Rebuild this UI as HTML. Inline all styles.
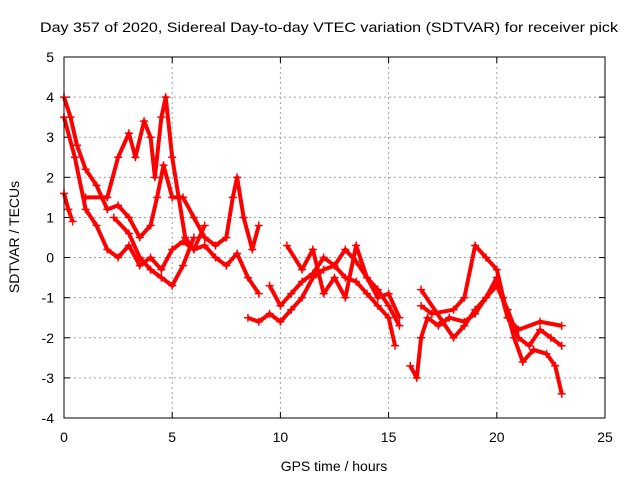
<!DOCTYPE html>
<html><head><meta charset="utf-8"><style>
body{margin:0;background:#fff}
svg{display:block;font-family:"Liberation Sans",sans-serif}
</style></head><body>
<svg id="c" width="640" height="480">
<text x="40" y="32" font-size="14" textLength="578" lengthAdjust="spacingAndGlyphs">Day 357 of 2020, Sidereal Day-to-day VTEC variation (SDTVAR) for receiver pick</text>
<text x="334" y="471" font-size="14" text-anchor="middle">GPS time / hours</text>
<text transform="translate(19,237) rotate(-90)" font-size="14" text-anchor="middle">SDTVAR / TECUs</text>
<g id="grid"></g><g id="marks"></g>
<rect x="64" y="57" width="541" height="361" fill="none" stroke="#000"/>
</svg>
<script>
const xTicks=[0,5,10,15,20,25];
const yTicks=[-4,-3,-2,-1,0,1,2,3,4,5];
const t1=[[0,4.0],[0.3,3.5],[0.6,2.8],[1,2.2],[1.5,1.8],[2,1.2],[2.5,1.3],[3,1.0],[3.5,0.5],[4,0.8],[4.3,1.5],[4.6,2.3],[5,1.5],[5.5,1.5],[6,1.0],[6.5,0.5],[7,0.3],[7.5,0.5],[7.8,1.5],[8,2.0],[8.3,1.0],[8.7,0.2],[9,0.8]];
const t2=[[0,3.5],[0.5,2.5],[1,1.2],[1.5,0.8],[2,0.2],[2.5,0.0],[3,0.3],[3.5,-0.2],[4,0.0],[4.5,-0.3],[5,0.2],[5.5,0.4],[6,0.2],[6.5,0.3],[7,0.0],[7.5,-0.2],[8,0.1],[8.5,-0.5],[9,-0.9]];
const t3=[[0,1.6],[0.2,1.2],[0.4,0.9]];
const t4=[[1,1.5],[2,1.5],[2.5,2.5],[3,3.1],[3.3,2.5],[3.7,3.4],[4,3.0],[4.2,2.0],[4.5,3.5],[4.7,4.0],[5,2.5],[5.3,1.5],[5.6,0.5],[6,0.2],[6.5,0.8]];
const t5=[[2.3,1.0],[3,0.6],[3.5,0.0],[4,-0.3],[4.5,-0.5],[5,-0.7],[5.5,-0.2],[6,0.5]];
const t6=[[8.5,-1.5],[9,-1.6],[9.5,-1.4],[10,-1.6],[10.5,-1.3],[11,-1.0],[11.5,-0.5],[12,-0.3],[12.5,-0.2],[13,-0.5],[13.5,-0.6],[14,-0.9],[14.5,-1.2],[15,-1.5],[15.3,-2.2]];
const t7=[[9.5,-0.7],[10,-1.2],[10.5,-0.9],[11,-0.6],[11.5,-0.4],[12,0.0],[12.5,-0.2],[13,0.2],[13.5,-0.1],[14,-0.5],[14.5,-0.8],[15,-1.2],[15.5,-1.7]];
const t8=[[10.3,0.3],[11,-0.3],[11.5,0.2],[12,-0.9],[12.5,-0.5],[13,-1.0],[13.5,0.3],[14,-0.5],[14.5,-1.0],[15,-0.9],[15.5,-1.5]];
const t9=[[16,-2.7],[16.3,-3.0],[16.5,-2.0],[16.8,-1.5],[17.3,-1.7],[17.8,-1.5],[18.5,-1.6],[19,-1.4],[19.5,-1.0],[20,-0.7],[20.5,-1.3],[21,-2.0],[21.5,-2.2],[22,-1.8],[22.5,-2.0],[23,-2.2]];
const t10=[[16.5,-1.2],[17,-1.4],[18,-1.3],[18.5,-1.0],[19,0.3],[19.5,0.0],[20,-0.3],[20.3,-1.0],[20.8,-2.0],[21.2,-2.6],[21.7,-2.3],[22.3,-2.4],[22.7,-2.7],[23,-3.4]];
const t11=[[16.5,-0.8],[17.5,-1.6],[18,-2.0],[18.5,-1.7],[19,-1.3],[19.5,-1.0],[20,-0.5],[20.5,-1.5],[21,-1.8],[22,-1.6],[23,-1.7]];
const series=[t1,t2,t3,t4,t5,t6,t7,t8,t9,t10,t11];
const NS="http://www.w3.org/2000/svg";
const X=v=>64+v*541/25, Y=v=>418-(v+4)*361/9;
const grid=document.getElementById('grid'), marks=document.getElementById('marks');
function mk(tag,a,p){const e=document.createElementNS(NS,tag);for(const k in a)e.setAttribute(k,a[k]);p.appendChild(e);return e;}
xTicks.forEach(v=>{
 if(v>0&&v<25){const l=mk('line',{x1:X(v),x2:X(v),y1:57,y2:418,stroke:'#a0a0a0','stroke-dasharray':'2,3'},grid);
 
 }
 mk('line',{x1:X(v),x2:X(v),y1:418,y2:412,stroke:'#000'},grid);
 mk('line',{x1:X(v),x2:X(v),y1:57,y2:63,stroke:'#000'},grid);
 const t=mk('text',{x:X(v),y:442,'font-size':14,'text-anchor':'middle'},grid);t.textContent=v;
 
 
});
yTicks.forEach(v=>{
 if(v>-4&&v<5){const l=mk('line',{x1:64,x2:605,y1:Y(v),y2:Y(v),stroke:'#a0a0a0','stroke-dasharray':'2,3'},grid);
 
 }
 mk('line',{x1:64,x2:70,y1:Y(v),y2:Y(v),stroke:'#000'},grid);
 mk('line',{x1:605,x2:599,y1:Y(v),y2:Y(v),stroke:'#000'},grid);
 const t=mk('text',{x:54,y:Y(v)+5,'font-size':14,'text-anchor':'end'},grid);t.textContent=v;
 
 
});
series.forEach((s,i)=>{
 const pl=mk('polyline',{points:s.map(p=>X(p[0])+','+Y(p[1])).join(' '),fill:'none',stroke:'#f00','stroke-width':4,'stroke-linejoin':'round'},marks);
 
 
 s.forEach(p=>{
  const m=mk('path',{d:`M${X(p[0])-4},${Y(p[1])}h8M${X(p[0])},${Y(p[1])-4}v8`,stroke:'#f00','stroke-width':1.5},marks);
  
  
 });
});
</script>
</body></html>
